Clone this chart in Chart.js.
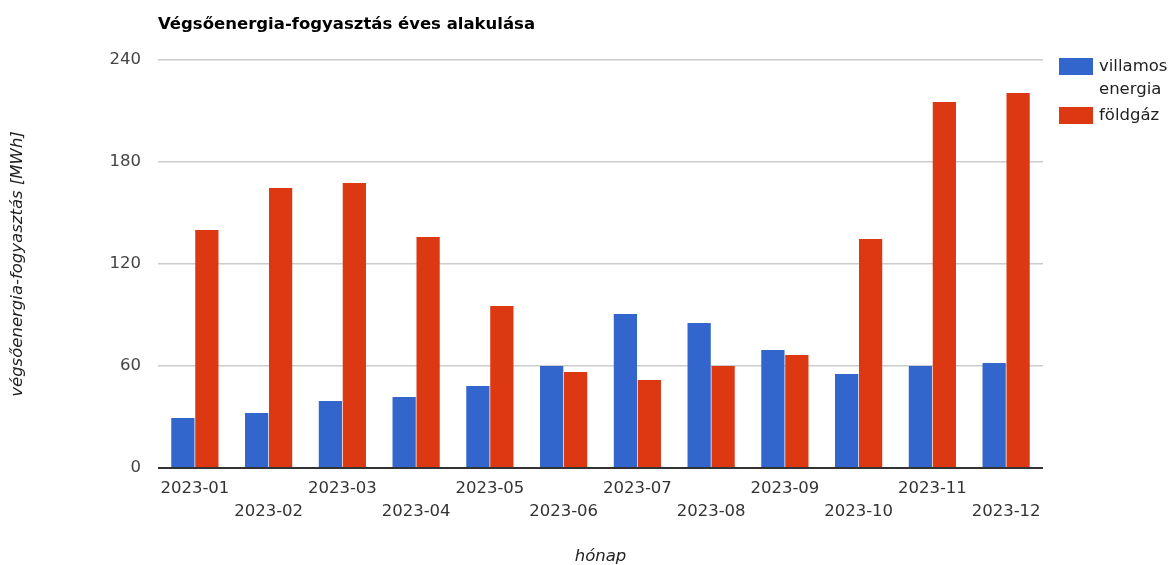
<!DOCTYPE html>
<html>
<head>
<meta charset="utf-8">
<script src="https://cdn.jsdelivr.net/npm/chart.js@4/dist/chart.umd.min.js"></script>
<style>
  html, body { margin: 0; padding: 0; background: #fff; }
  #wrap { width: 1169px; height: 565px; position: relative; }
</style>
</head>
<body>
<div id="wrap"><canvas id="chart" width="1169" height="565"></canvas></div>
<script>
// ===== Adatok =====
const honapok = ['2023-01','2023-02','2023-03','2023-04','2023-05','2023-06',
                 '2023-07','2023-08','2023-09','2023-10','2023-11','2023-12'];
const villamos = [29.4, 32.4, 39.4, 41.8, 48.2, 60, 90.6, 85.3, 69.4, 55.3, 60, 61.8];
const foldgaz  = [140, 164.7, 167.6, 135.9, 95.3, 56.5, 51.8, 60, 66.5, 134.7, 215.3, 220.6];
const yTicks   = [0, 60, 120, 180, 240];

const FONT = '"DejaVu Sans", sans-serif';
const FS = 16.5;
const BLUE = '#3366cc', RED = '#dc3912';

// cím + jelmagyarázat kézzel (tördelt szöveg miatt)
const extras = {
  id: 'extras',
  afterDraw(chart) {
    const { ctx, chartArea } = chart;
    ctx.save();
    ctx.fillStyle = '#000';
    ctx.font = 'bold ' + FS + 'px ' + FONT;
    ctx.textBaseline = 'alphabetic';
    ctx.fillText('Végsőenergia-fogyasztás éves alakulása', chartArea.left, 29);

    const lx = chartArea.right + 16;
    const items = [
      { color: BLUE, lines: ['villamos', 'energia'], y: 58 },
      { color: RED,  lines: ['földgáz'], y: 107 }
    ];
    ctx.font = FS + 'px ' + FONT;
    ctx.textBaseline = 'middle';
    items.forEach(it => {
      ctx.fillStyle = it.color;
      ctx.fillRect(lx, it.y, 34, 17);
      ctx.fillStyle = '#222';
      it.lines.forEach((t, i) => ctx.fillText(t, lx + 40, it.y + 9 + i * 23));
    });
    ctx.restore();
  }
};

new Chart(document.getElementById('chart'), {
  type: 'bar',
  data: {
    labels: honapok,
    datasets: [
      { label: 'villamos energia', data: villamos, backgroundColor: BLUE },
      { label: 'földgáz', data: foldgaz, backgroundColor: RED }
    ]
  },
  options: {
    responsive: false,
    animation: false,
    devicePixelRatio: 1,
    layout: { padding: { left: 0, top: 60, right: 126, bottom: 0 } },
    datasets: { bar: { categoryPercentage: 0.65, barPercentage: 0.97 } },
    plugins: { legend: { display: false }, tooltip: { enabled: false } },
    scales: {
      x: {
        grid: { display: false, drawTicks: false },
        border: { display: false },
        afterFit: s => { s.height = 97; },
        ticks: {
          autoSkip: false, maxRotation: 0, minRotation: 0, padding: 9,
          color: '#333', font: { family: FONT, size: FS, lineHeight: 1.4 },
          callback: (v, i) => i % 2 === 0 ? [honapok[i]] : ['', honapok[i]]
        },
        title: {
          display: true, text: 'hónap', color: '#222',
          font: { family: FONT, size: FS, style: 'italic', lineHeight: 1.0 },
          padding: { top: 0, bottom: 0 }
        }
      },
      y: {
        min: 0, max: 240,
        afterFit: s => { s.width = 158; },
        afterBuildTicks: s => { s.ticks = yTicks.map(v => ({ value: v })); },
        grid: {
          drawTicks: false,
          color: c => c.tick.value === 0 ? '#333' : '#ccc',
          lineWidth: c => c.tick.value === 0 ? 2 : 1.5
        },
        border: { display: false },
        ticks: { padding: 17, color: '#444', font: { family: FONT, size: FS } },
        title: {
          display: true, text: 'végsőenergia-fogyasztás [MWh]', color: '#222',
          font: { family: FONT, size: FS, style: 'italic' },
          padding: { top: 8, bottom: 0 }
        }
      }
    }
  },
  plugins: [extras]
});
</script>
</body>
</html>
